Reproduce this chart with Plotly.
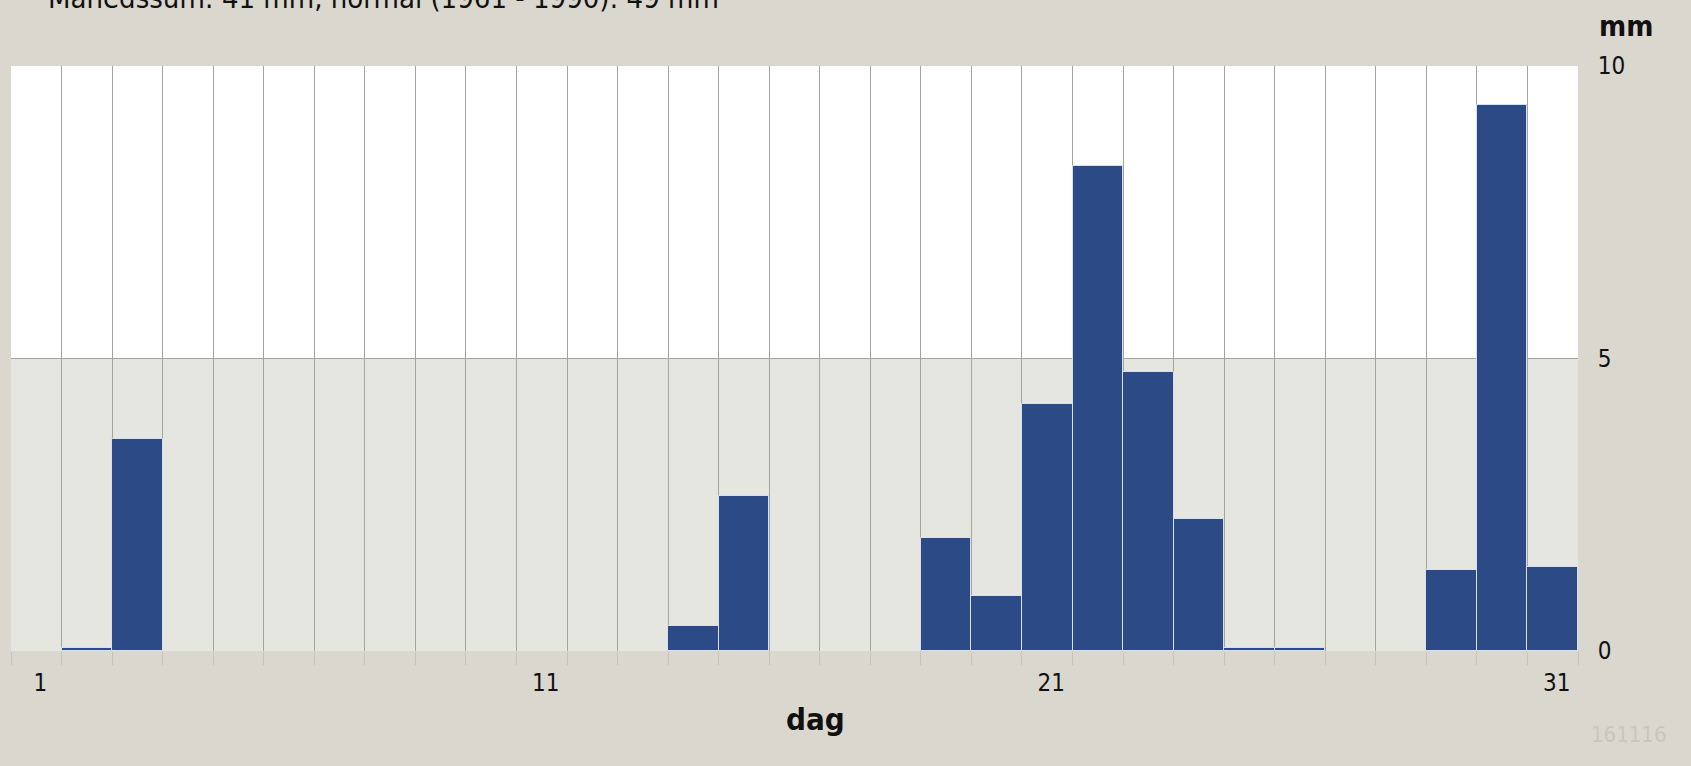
import plotly.graph_objects as go

# ---- data ----
days = list(range(1, 32))
precip_mm = [0, 0.05, 3.63, 0, 0, 0, 0, 0, 0, 0,
             0, 0, 0, 0.42, 2.65, 0, 0, 0, 1.93, 0.94,
             4.23, 8.29, 4.77, 2.26, 0.05, 0.05, 0, 0, 1.39, 9.34, 1.44]
x_tick_vals = [1, 11, 21, 31]
x_tick_text = ["1", "11", "21", "31"]
y_tick_vals = [0, 5, 10]
title_text = "Månedssum: 41 mm, normal (1961 - 1990): 49 mm"
x_label = "dag"
y_label = "mm"
stamp = "161116"

# ---- styles ----
BG = "#dad8ce"
LOWER = "#e4e6df"
GRID = "#a4a4a0"
BAR = "#2c4a86"
FONT = "DejaVu Sans Condensed, DejaVu Sans, sans-serif"

y_vals = [v if v > 0 else None for v in precip_mm]

fig = go.Figure()
fig.add_trace(go.Bar(
    x=days, y=y_vals,
    marker=dict(color=BAR, line=dict(color="#d8e0ef", width=1)),
    width=1.0,
    hoverinfo="x+y",
))

fig.add_shape(type="rect", xref="paper", x0=0, x1=1, yref="y", y0=0, y1=5,
              fillcolor=LOWER, line=dict(width=0), layer="below")

fig.update_layout(
    width=1691, height=766,
    margin=dict(l=11, r=113, t=66, b=115),
    paper_bgcolor=BG,
    plot_bgcolor="white",
    bargap=0,
    showlegend=False,
    font=dict(family=FONT, color="#111111", size=24),
    xaxis=dict(
        range=[0.5, 31.5],
        tickmode="array", tickvals=x_tick_vals, ticktext=x_tick_text,
        showgrid=False, zeroline=False, showline=False,
        ticks="outside", ticklen=10, tickcolor="rgba(0,0,0,0)",
        ticklabelshift=4,
        tickfont=dict(size=24, family=FONT, color="#111111"),
        minor=dict(tickmode="linear", tick0=0.5, dtick=1,
                   showgrid=True, gridcolor=GRID, gridwidth=1,
                   ticks="outside", ticklen=13, tickcolor="#c4c4bc"),
        fixedrange=True,
    ),
    yaxis=dict(
        range=[0, 10], side="right",
        tickmode="array", tickvals=y_tick_vals,
        showgrid=True, gridcolor=GRID, gridwidth=1,
        zeroline=False, showline=False,
        ticks="outside", ticklen=14, tickcolor="rgba(0,0,0,0)",
        tickfont=dict(size=24, family=FONT, color="#111111"),
        fixedrange=True,
    ),
    annotations=[
        dict(text=title_text, xref="paper", yref="paper", x=0.0225, y=1.1156,
             xanchor="left", yanchor="middle", showarrow=False,
             font=dict(size=29, family=FONT, color="#111111")),
        dict(text="<b>" + y_label + "</b>", xref="paper", yref="paper",
             x=1.0306, y=1.0684, xanchor="center", yanchor="middle",
             showarrow=False, font=dict(size=29, family=FONT, color="#111111")),
        dict(text="<b>" + x_label + "</b>", xref="paper", yref="paper",
             x=0.5137, y=-0.1162, xanchor="center", yanchor="middle",
             showarrow=False, font=dict(size=31, family=FONT, color="#111111")),
        dict(text=stamp, xref="paper", yref="paper", x=1.0325, y=-0.1419,
             xanchor="center", yanchor="middle", showarrow=False,
             font=dict(size=22, family=FONT, color="#c8c6bd")),
    ],
)

fig.write_html("out.html",
               config={"displayModeBar": False},
               post_script="document.body.style.margin='0';document.body.style.padding='0';")
